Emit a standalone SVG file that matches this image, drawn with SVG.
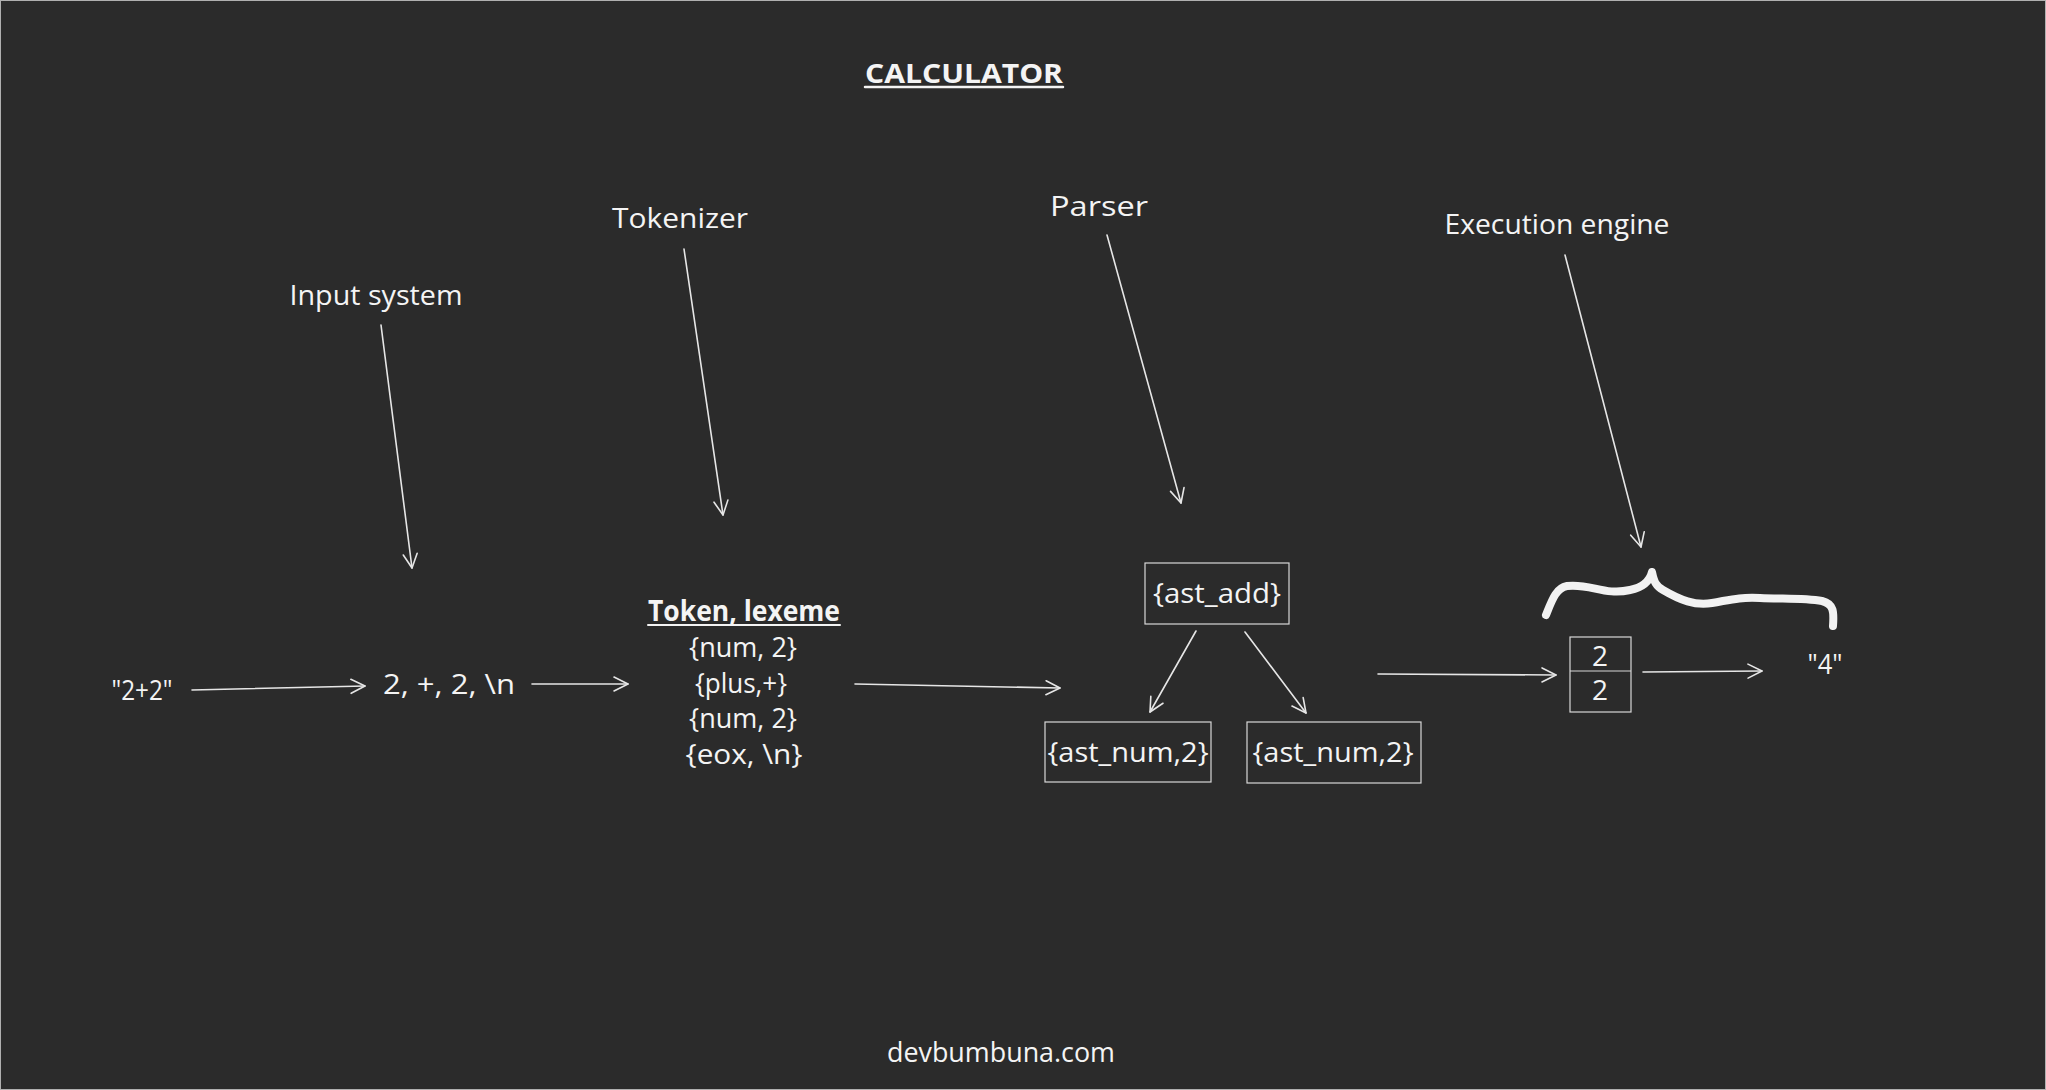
<svg xmlns="http://www.w3.org/2000/svg" width="2046" height="1090" viewBox="0 0 2046 1090">
<style>
text{font-family:"Open Sans","Liberation Sans",sans-serif;fill:#f4f4f4;font-weight:400;}
.lbl{font-size:27px;text-anchor:middle;}
.tok{font-size:28px;text-anchor:middle;}
.bold{font-weight:700;}
.box{fill:none;stroke:#d8d8d8;stroke-width:1.2;}
.con{fill:none;stroke:#e6e6e6;stroke-width:1.6;stroke-linecap:round;marker-end:url(#ah);}
.ul{stroke:#f4f4f4;stroke-linecap:round;}
</style>
<defs>
<marker id="ah" viewBox="-16 -9 18 18" refX="0" refY="0" markerWidth="18" markerHeight="18" markerUnits="userSpaceOnUse" orient="auto">
<path d="M-14,-7 L0,0 L-14,7" fill="none" stroke="#e6e6e6" stroke-width="1.6" stroke-linecap="round" stroke-linejoin="round"/>
</marker>
</defs>
<rect x="0" y="0" width="2046" height="1090" fill="#2b2b2b"/>
<rect x="0.5" y="0.5" width="2045" height="1089" fill="none" stroke="#b0b0b0" stroke-width="1"/>

<g id="title">
<text class="lbl bold" x="964" y="83" font-size="28" textLength="198" lengthAdjust="spacingAndGlyphs">CALCULATOR</text>
<line class="ul" x1="865" y1="87" x2="1063" y2="87" stroke-width="2.5"/>
</g>

<g id="label-input-system"><text class="lbl" x="376" y="305" textLength="173" lengthAdjust="spacingAndGlyphs">Input system</text></g>
<g id="label-tokenizer"><text class="lbl" x="680" y="228" textLength="136" lengthAdjust="spacingAndGlyphs">Tokenizer</text></g>
<g id="label-parser"><text class="lbl" x="1099" y="216" textLength="98" lengthAdjust="spacingAndGlyphs">Parser</text></g>
<g id="label-execution-engine"><text class="lbl" x="1557" y="234" textLength="225" lengthAdjust="spacingAndGlyphs">Execution engine</text></g>

<g id="input-string"><text class="tok" x="142" y="700" font-size="28" textLength="61" lengthAdjust="spacingAndGlyphs">"2+2"</text></g>
<g id="chars"><text class="tok" x="449" y="694" textLength="132" lengthAdjust="spacingAndGlyphs">2, +, 2, \n</text></g>

<g id="tokens">
<text class="tok bold" x="744" y="621" font-size="26" textLength="192" lengthAdjust="spacingAndGlyphs">Token, lexeme</text>
<line class="ul" x1="648" y1="625" x2="840" y2="625" stroke-width="2"/>
<text class="tok" x="743" y="657" textLength="108" lengthAdjust="spacingAndGlyphs">{num, 2}</text>
<text class="tok" x="741" y="693" textLength="92" lengthAdjust="spacingAndGlyphs">{plus,+}</text>
<text class="tok" x="743" y="728" textLength="108" lengthAdjust="spacingAndGlyphs">{num, 2}</text>
<text class="tok" x="744" y="764" textLength="117" lengthAdjust="spacingAndGlyphs">{eox, \n}</text>
</g>

<g id="ast-add">
<rect class="box" x="1145" y="563" width="144" height="61"/>
<text class="tok" x="1217" y="603" textLength="128" lengthAdjust="spacingAndGlyphs">{ast_add}</text>
</g>
<g id="ast-num-left">
<rect class="box" x="1045" y="722" width="166" height="60"/>
<text class="tok" x="1128" y="762" textLength="161" lengthAdjust="spacingAndGlyphs">{ast_num,2}</text>
</g>
<g id="ast-num-right">
<rect class="box" x="1247" y="722" width="174" height="61"/>
<text class="tok" x="1333" y="762" textLength="161" lengthAdjust="spacingAndGlyphs">{ast_num,2}</text>
</g>

<g id="stack">
<rect class="box" x="1570" y="637" width="61" height="75"/>
<line class="box" x1="1570" y1="671" x2="1631" y2="671"/>
<text class="tok" x="1600" y="666" font-size="22">2</text>
<text class="tok" x="1600" y="700" font-size="22">2</text>
</g>

<g id="result"><text class="tok" x="1825" y="674" font-size="28" textLength="35" lengthAdjust="spacingAndGlyphs">"4"</text></g>

<g id="brace">
<path d="M1546,615 C1552,600 1556,588 1567,586 C1590,583 1605,596 1630,590 C1645,587 1650,580 1652,572 C1654,582 1656,586 1663,590 C1680,600 1695,606 1712,603 C1730,600 1738,597 1760,598 C1785,599 1805,598 1822,601 C1834,604 1834,612 1833,626" fill="none" stroke="#f2f2f2" stroke-width="8" stroke-linecap="round" stroke-linejoin="round"/>
</g>

<g id="footer"><text class="lbl" x="1001" y="1062" font-size="28" textLength="228" lengthAdjust="spacingAndGlyphs">devbumbuna.com</text></g>

<g id="connectors">
<path class="con" d="M381,325 L412,568"/>
<path class="con" d="M684,249 Q703,380 723,515"/>
<path class="con" d="M1107,235 L1181,503"/>
<path class="con" d="M1565,255 L1641,547"/>
<path class="con" d="M192,690 L365,686"/>
<path class="con" d="M532,684 L628,684"/>
<path class="con" d="M855,684 L1060,688"/>
<path class="con" d="M1196,631 L1150,712"/>
<path class="con" d="M1245,632 L1306,713"/>
<path class="con" d="M1378,674 L1556,675"/>
<path class="con" d="M1643,672 L1762,671"/>
</g>
</svg>
